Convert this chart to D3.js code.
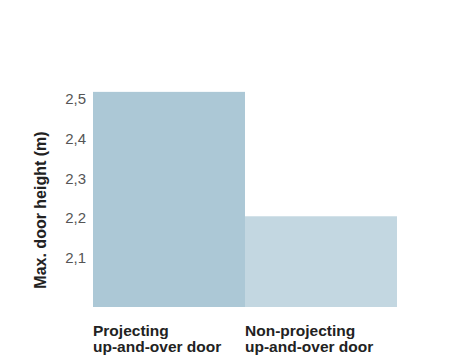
<!DOCTYPE html>
<html>
<head>
<meta charset="utf-8">
<script src="https://cdn.jsdelivr.net/npm/d3@7"></script>
<style>
  body { margin: 0; background: #fff; }
  svg { display: block; font-family: "Liberation Sans", Arial, sans-serif; }
</style>
</head>
<body>
<svg width="467" height="355"></svg>
<script>
// chart data
const categories = [["Projecting", "up-and-over door"], ["Non-projecting", "up-and-over door"]];
const values = [2.518, 2.204];
const barColors = ["#acc8d6", "#c3d7e1"];
const tickValues = [2.1, 2.2, 2.3, 2.4, 2.5];
const yTitle = "Max. door height (m)";

const svg = d3.select("svg");

// scales
const x = d3.scaleBand()
    .domain(d3.range(categories.length))
    .range([93, 397])
    .padding(0);

const y = d3.scaleLinear()
    .domain([1.975, 2.5])
    .range([307, 99]);

// bars
svg.append("g")
    .selectAll("rect")
    .data(values)
    .join("rect")
    .attr("x", (d, i) => x(i))
    .attr("width", x.bandwidth())
    .attr("y", d => y(d))
    .attr("height", d => y.range()[0] - y(d))
    .attr("fill", (d, i) => barColors[i]);

// y axis (labels only)
const yAxis = d3.axisLeft(y)
    .tickValues(tickValues)
    .tickSize(0)
    .tickPadding(0)
    .tickFormat(d => d3.format(".1f")(d).replace(".", ","));

svg.append("g")
    .attr("transform", "translate(86,0)")
    .call(yAxis)
    .call(g => g.select(".domain").remove())
    .call(g => g.selectAll("text")
        .attr("font-family", "Liberation Sans, Arial, sans-serif")
        .attr("font-size", 15)
        .attr("fill", "#555"));

// y axis title
svg.append("text")
    .attr("transform", "translate(46,210) rotate(-90)")
    .attr("text-anchor", "middle")
    .attr("font-size", 16)
    .attr("font-weight", "bold")
    .attr("fill", "#222")
    .text(yTitle);

// category labels
const labels = svg.append("g")
    .selectAll("text")
    .data(categories)
    .join("text")
    .attr("x", (d, i) => x(i))
    .attr("y", 336)
    .attr("font-size", 15.5)
    .attr("font-weight", "bold")
    .attr("fill", "#222");

labels.selectAll("tspan")
    .data(d => d)
    .join("tspan")
    .attr("x", function () { return d3.select(this.parentNode).attr("x"); })
    .attr("dy", (d, i) => i === 0 ? 0 : 16)
    .text(d => d);
</script>
</body>
</html>
